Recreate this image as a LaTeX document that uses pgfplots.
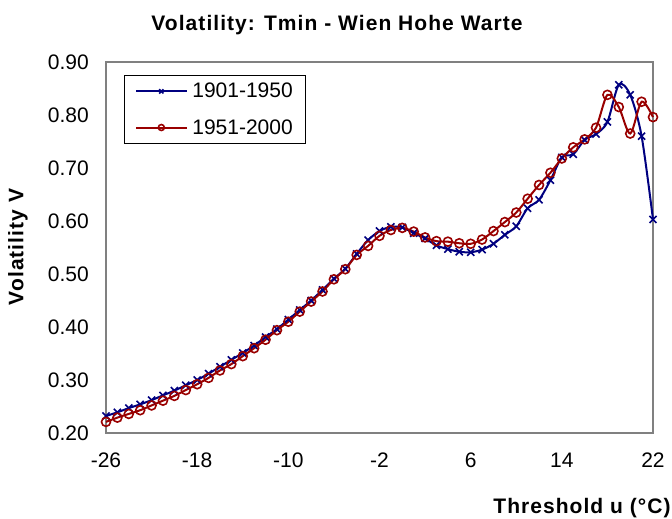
\documentclass[border=0pt]{standalone}
\usepackage{pgfplots}
\pgfplotsset{compat=1.18}
\usepackage{fontspec}
\setmainfont{Liberation Sans}
\definecolor{serA}{RGB}{0,0,128}
\definecolor{serB}{RGB}{153,0,0}
\definecolor{axframe}{RGB}{128,128,128}
\newcommand{\labfont}{\fontsize{21}{25}\selectfont\bfseries\addfontfeatures{LetterSpace=5}}
\begin{document}
\begin{tikzpicture}
\useasboundingbox (-106pt,-86pt) rectangle (566pt,433pt);
\begin{axis}[
  scale only axis, width=547pt, height=371pt,
  xmin=-26, xmax=22, ymin=0.2, ymax=0.9,
  xtick={-26,-18,...,22}, ytick={0.2,0.3,...,0.9},
  major tick length=0pt,
  axis line style={axframe, line width=1.8pt},
  clip=false,
  tick label style={font=\fontsize{21}{25}\selectfont},
  /pgf/number format/assume math mode=true,
  yticklabel style={/pgf/number format/fixed, /pgf/number format/fixed zerofill, /pgf/number format/precision=2},
  y tick label style={inner sep=0pt, xshift=-17pt},
  x tick label style={inner sep=0pt, yshift=-20pt},
  legend style={at={(rel axis cs:0.033,0.965)}, anchor=north west,
    draw=black, line width=0.6pt, font=\fontsize{21}{25}\selectfont,
    inner xsep=11pt, inner ysep=6pt, row sep=16pt,
    /tikz/every odd column/.append style={column sep=3pt}},
  legend cell align=left,
  legend image code/.code={\draw[mark repeat=2,mark phase=2,#1,mark size=3pt] plot coordinates {(0pt,0pt) (25pt,0pt) (50pt,0pt)};},
]
\addplot[serA, line width=2pt, smooth, mark=x, mark size=5pt, mark options={line width=1.6pt}] coordinates {
(-26,0.232) (-25,0.239) (-24,0.247) (-23,0.254) (-22,0.262) (-21,0.271)
(-20,0.280) (-19,0.290) (-18,0.300) (-17,0.312) (-16,0.325) (-15,0.338)
(-14,0.351) (-13,0.365) (-12,0.381) (-11,0.396) (-10,0.414) (-9,0.432)
(-8,0.450) (-7,0.470) (-6,0.491) (-5,0.510) (-4,0.538) (-3,0.564)
(-2,0.581) (-1,0.589) (0,0.588) (1,0.577) (2,0.567) (3,0.554)
(4,0.547) (5,0.542) (6,0.541) (7,0.546) (8,0.557) (9,0.574)
(10,0.590) (11,0.624) (12,0.640) (13,0.677) (14,0.720) (15,0.726)
(16,0.753) (17,0.764) (18,0.787) (19,0.857) (20,0.838) (21,0.760)
(22,0.603)
};
\addlegendentry{1901-1950}
\addplot[serB, line width=2pt, smooth, mark=o, mark size=4.5pt, mark options={line width=1.6pt}] coordinates {
(-26,0.221) (-25,0.229) (-24,0.236) (-23,0.243) (-22,0.252) (-21,0.261)
(-20,0.270) (-19,0.281) (-18,0.292) (-17,0.304) (-16,0.318) (-15,0.330)
(-14,0.345) (-13,0.360) (-12,0.376) (-11,0.394) (-10,0.410) (-9,0.429)
(-8,0.448) (-7,0.467) (-6,0.490) (-5,0.509) (-4,0.536) (-3,0.553)
(-2,0.572) (-1,0.583) (0,0.587) (1,0.580) (2,0.569) (3,0.562)
(4,0.561) (5,0.558) (6,0.557) (7,0.565) (8,0.581) (9,0.598)
(10,0.616) (11,0.642) (12,0.668) (13,0.691) (14,0.718) (15,0.739)
(16,0.754) (17,0.776) (18,0.838) (19,0.815) (20,0.765) (21,0.825)
(22,0.796)
};
\addlegendentry{1951-2000}
\end{axis}
\node[font=\labfont] at (231pt,408pt) {Volatility: Tmin - Wien Hohe Warte};
\node[font=\labfont, rotate=90] at (-88pt,186pt) {Volatility V};
\node[font=\labfont] at (476pt,-75pt) {Threshold u (°C)};
\end{tikzpicture}
\end{document}
